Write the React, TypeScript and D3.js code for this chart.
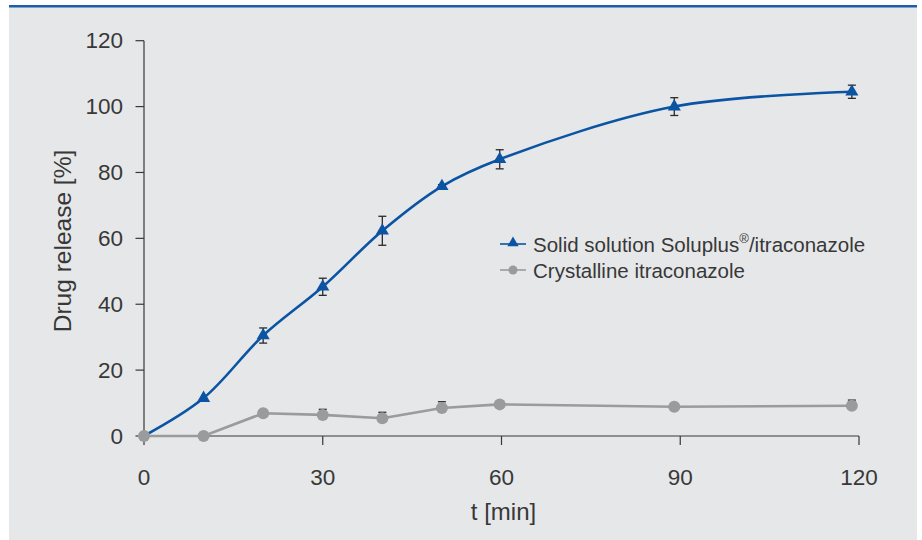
import React from "react";
import * as d3 from "d3";

const times = [0, 10, 20, 30, 40, 50, 59.7, 89, 118.8];
const solidValues = [0, 11.5, 30.5, 45.3, 62.3, 75.8, 84, 100, 104.5];
const solidErrors = [0, 0, 2.3, 2.6, 4.4, 0.5, 2.9, 2.7, 2.0];
const crystValues = [0, 0, 6.9, 6.4, 5.4, 8.5, 9.6, 8.9, 9.2];
const crystErrors = [0, 0, 0, 1.7, 1.8, 1.9, 0, 0, 1.7];
const xTicks = [0, 30, 60, 90, 120];
const yTicks = [0, 20, 40, 60, 80, 100, 120];
const legendLabels = ["Solid solution Soluplus", "®", "/itraconazole", "Crystalline itraconazole"];

const BLUE = "#0b54a4";
const GRAY = "#9a9b9d";
const TEXT = "#383838";
const FONT = "'Liberation Sans', Arial, sans-serif";

export default function App() {
  const x = d3.scaleLinear().domain([0, 120]).range([144, 859]);
  const y = d3.scaleLinear().domain([0, 120]).range([436, 40.7]);

  const solid = times.map((t, i) => ({ t, v: solidValues[i], e: solidErrors[i] }));
  const cryst = times.map((t, i) => ({ t, v: crystValues[i], e: crystErrors[i] }));

  const solidLine = d3
    .line<any>()
    .x((d) => x(d.t))
    .y((d) => y(d.v))
    .curve(d3.curveCatmullRom.alpha(0.5))(solid) as string;
  const crystLine = d3
    .line<any>()
    .x((d) => x(d.t))
    .y((d) => y(d.v))(cryst) as string;

  const tri = d3.symbol().type(d3.symbolTriangle).size(75)() as string;

  const errBar = (d: any, key: string, both: boolean) =>
    d.e > 0 ? (
      <g key={key} stroke="#2a2a2a" strokeWidth={1.3}>
        <line x1={x(d.t)} x2={x(d.t)} y1={y(d.v + d.e)} y2={both ? y(d.v - d.e) : y(d.v)} />
        <line x1={x(d.t) - 4} x2={x(d.t) + 4} y1={y(d.v + d.e)} y2={y(d.v + d.e)} />
        {both && <line x1={x(d.t) - 4} x2={x(d.t) + 4} y1={y(d.v - d.e)} y2={y(d.v - d.e)} />}
      </g>
    ) : null;

  return (
    <svg
      width={922}
      height={540}
      style={{ position: "absolute", left: 0, top: 0, background: "#ffffff" }}
      fontFamily={FONT}
    >
      <rect x={9} y={5} width={908} height={535} fill="#e6e7e9" />
      <rect x={9} y={5} width={908} height={2.5} fill="#1b5fa9" />

      {/* axes */}
      <g stroke={TEXT} strokeWidth={1.2}>
        <line x1={x(0)} x2={x(0)} y1={y(120)} y2={y(0)} />
        <line x1={x(0)} x2={x(120)} y1={y(0)} y2={y(0)} />
        {yTicks.map((t) => (
          <line key={"yt" + t} x1={x(0) - 8.5} x2={x(0)} y1={y(t)} y2={y(t)} />
        ))}
        {xTicks.map((t) => (
          <line key={"xt" + t} x1={x(t)} x2={x(t)} y1={y(0)} y2={y(0) + 9} />
        ))}
      </g>
      <g fill={TEXT} fontSize={22.5}>
        {yTicks.map((t) => (
          <text key={"yl" + t} x={123} y={y(t)} textAnchor="end" dominantBaseline="central">
            {t}
          </text>
        ))}
        {xTicks.map((t) => (
          <text key={"xl" + t} x={x(t)} y={477} textAnchor="middle" dominantBaseline="central">
            {t}
          </text>
        ))}
        <text x={503.5} y={511} fontSize={24} textAnchor="middle" dominantBaseline="central">
          t [min]
        </text>
        <text
          transform={`translate(62,241) rotate(-90)`}
          fontSize={24.5}
          textAnchor="middle"
          dominantBaseline="central"
        >
          Drug release [%]
        </text>
      </g>

      {/* solid solution series */}
      <path d={solidLine} fill="none" stroke={BLUE} strokeWidth={2.6} />
      {solid.map((d, i) => errBar(d, "se" + i, true))}
      {solid.slice(1).map((d, i) => (
        <path key={"st" + i} d={tri} transform={`translate(${x(d.t)},${y(d.v)})`} fill={BLUE} />
      ))}

      {/* crystalline series */}
      <path d={crystLine} fill="none" stroke={GRAY} strokeWidth={2.6} />
      {cryst.map((d, i) => errBar(d, "ce" + i, false))}
      {cryst.map((d, i) => (
        <circle key={"cc" + i} cx={x(d.t)} cy={y(d.v)} r={6} fill={GRAY} />
      ))}

      {/* legend */}
      <g>
        <line x1={500} x2={526} y1={244} y2={244} stroke={BLUE} strokeWidth={1.6} />
        <path d={d3.symbol().type(d3.symbolTriangle).size(55)() as string} transform="translate(513,243)" fill={BLUE} />
        <line x1={500} x2={526} y1={270} y2={270} stroke={GRAY} strokeWidth={1.6} />
        <circle cx={513} cy={270} r={4.5} fill={GRAY} />
        <text x={533} y={244} fontSize={20.5} fill={TEXT} dominantBaseline="central">
          {legendLabels[0]}
          <tspan fontSize={13} dy={-6}>{legendLabels[1]}</tspan>
          <tspan dy={6}>{legendLabels[2]}</tspan>
        </text>
        <text x={533} y={270} fontSize={20.5} fill={TEXT} dominantBaseline="central">
          {legendLabels[3]}
        </text>
      </g>
    </svg>
  );
}
